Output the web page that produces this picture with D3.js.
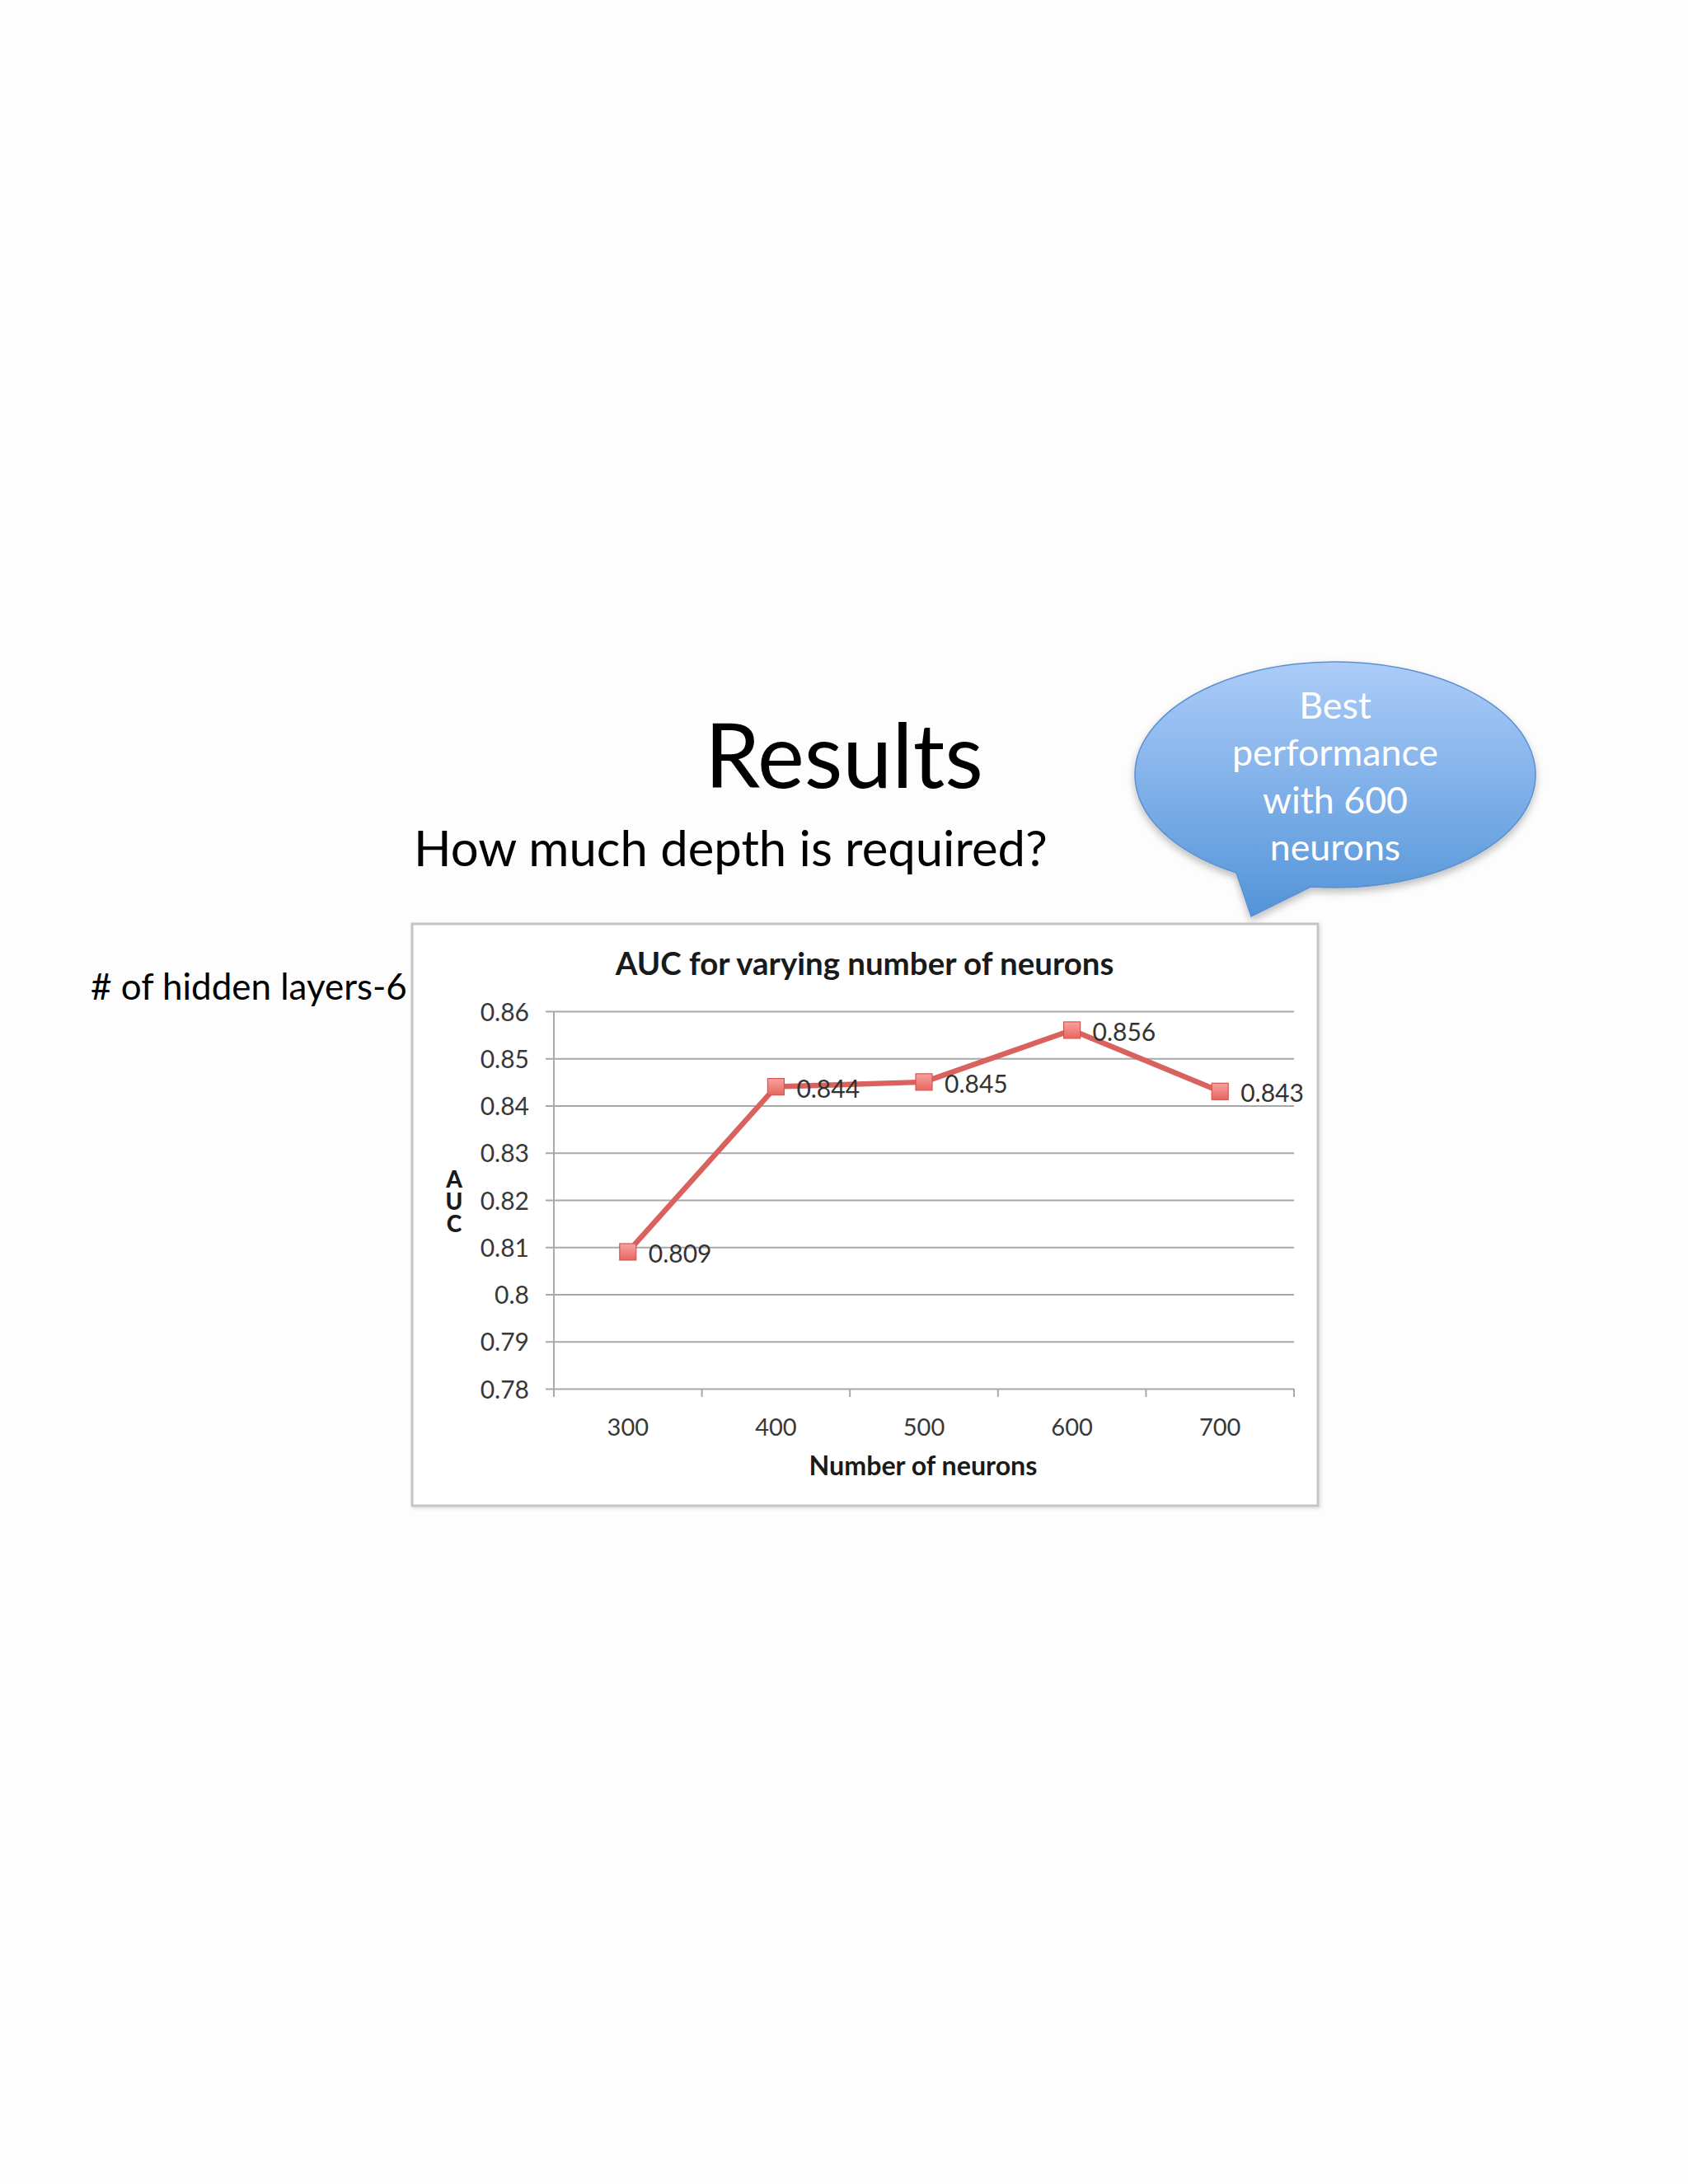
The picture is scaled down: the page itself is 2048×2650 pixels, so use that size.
<!DOCTYPE html>
<html><head><meta charset="utf-8">
<script src="https://cdn.jsdelivr.net/npm/d3@7"></script>
<style>html,body{margin:0;padding:0;background:#fdfdfd;} svg{display:block;}</style>
</head><body>
<script>
// ---- data ----
const categories = ["300", "400", "500", "600", "700"];
const aucValues = [0.809, 0.844, 0.845, 0.856, 0.843];
const yTickValues = [0.78, 0.79, 0.80, 0.81, 0.82, 0.83, 0.84, 0.85, 0.86];
const chartTitle = "AUC for varying number of neurons";
const xAxisTitle = "Number of neurons";
const yAxisTitle = "AUC";
const slideTitle = "Results";
const slideSubtitle = "How much depth is required?";
const sideNote = "# of hidden layers-6";
const bubbleLines = ["Best", "performance", "with 600", "neurons"];

const W = 2048, H = 2650;
const FONT = "Lato, 'Open Sans', sans-serif";
const svg = d3.select("body").append("svg").attr("width", W).attr("height", H);
svg.append("rect").attr("width", W).attr("height", H).attr("fill", "#fdfdfd");

function fitText(sel, targetWidth) {
  const fs = parseFloat(sel.attr("font-size"));
  const w = sel.node().getComputedTextLength();
  if (w > 0) sel.attr("font-size", fs * targetWidth / w);
  return sel;
}

const defs = svg.append("defs");
const bg = defs.append("linearGradient").attr("id", "bubbleGrad").attr("x1", 0).attr("y1", 0).attr("x2", 0).attr("y2", 1);
bg.append("stop").attr("offset", "0%").attr("stop-color", "#acccf9");
bg.append("stop").attr("offset", "100%").attr("stop-color", "#5394d8");
const mg = defs.append("linearGradient").attr("id", "markGrad").attr("x1", 0).attr("y1", 0).attr("x2", 0).attr("y2", 1);
mg.append("stop").attr("offset", "0%").attr("stop-color", "#f7a3a0");
mg.append("stop").attr("offset", "100%").attr("stop-color", "#e86561");
const sh = defs.append("filter").attr("id", "shadow").attr("x", "-10%").attr("y", "-10%").attr("width", "130%").attr("height", "130%");
sh.append("feDropShadow").attr("dx", 0).attr("dy", 5).attr("stdDeviation", 5).attr("flood-color", "#000").attr("flood-opacity", 0.25);
const sh2 = defs.append("filter").attr("id", "boxShadow").attr("x", "-5%").attr("y", "-5%").attr("width", "110%").attr("height", "110%");
sh2.append("feDropShadow").attr("dx", 2).attr("dy", 2).attr("stdDeviation", 2).attr("flood-color", "#000").attr("flood-opacity", 0.12);

// ---- slide texts ----
fitText(svg.append("text").text(slideTitle).attr("x", 1024).attr("y", 956).attr("text-anchor", "middle")
  .attr("font-family", FONT).attr("font-size", 120).attr("fill", "#000"), 338);
fitText(svg.append("text").text(slideSubtitle).attr("x", 502).attr("y", 1051)
  .attr("font-family", FONT).attr("font-size", 60).attr("fill", "#000"), 769);
fitText(svg.append("text").text(sideNote).attr("x", 110).attr("y", 1213)
  .attr("font-family", FONT).attr("font-size", 42).attr("fill", "#000"), 384);

// ---- speech bubble ----
const cx = 1620, cy = 940, rx = 243, ry = 137;
const aL = 119.6 * Math.PI / 180, aR = 97 * Math.PI / 180;
const pL = [cx + rx * Math.cos(aL), cy + ry * Math.sin(aL)];
const pR = [cx + rx * Math.cos(aR), cy + ry * Math.sin(aR)];
const tip = [1518, 1112];
svg.append("path")
  .attr("d", `M${pR[0]},${pR[1]} L${tip[0]},${tip[1]} L${pL[0]},${pL[1]} A${rx},${ry} 0 1 1 ${pR[0]},${pR[1]} Z`)
  .attr("fill", "url(#bubbleGrad)").attr("stroke", "#5d8fcf").attr("stroke-width", 1.5)
  .attr("filter", "url(#shadow)");
const bt = svg.append("g");
const perfT = bt.append("text").text(bubbleLines[1]).attr("font-family", FONT).attr("font-size", 40);
fitText(perfT, 250);
const bfs = parseFloat(perfT.attr("font-size"));
perfT.remove();
bt.selectAll("text").data(bubbleLines).join("text")
  .text(d => d).attr("x", cx).attr("y", (d, i) => 872 + i * 57.3)
  .attr("text-anchor", "middle").attr("font-family", FONT).attr("font-size", bfs).attr("fill", "#fff");

// ---- chart box ----
svg.append("rect").attr("x", 500).attr("y", 1121).attr("width", 1099).attr("height", 706)
  .attr("fill", "#fff").attr("stroke", "#c4c4c4").attr("stroke-width", 3).attr("filter", "url(#boxShadow)");

const x = d3.scaleBand().domain(categories).range([672, 1570]).paddingInner(0).paddingOuter(0);
const y = d3.scaleLinear().domain([0.78, 0.86]).range([1685, 1227]);
const GRID = "#a8a8a8";

// y axis with gridlines
const yAx = svg.append("g").attr("transform", "translate(662,0)")
  .call(d3.axisLeft(y).tickValues(yTickValues).tickSize(-(x.range()[1] - 662)).tickPadding(20)
    .tickFormat(d => String(+d.toFixed(2))));
yAx.select(".domain").remove();
yAx.selectAll(".tick line").attr("stroke", GRID).attr("stroke-width", 2);
yAx.selectAll(".tick text").attr("font-family", FONT).attr("font-size", 30).attr("fill", "#383838")
  .attr("dy", null).attr("y", 11);

// y axis line
svg.append("line").attr("x1", 672).attr("x2", 672).attr("y1", y(0.86)).attr("y2", y(0.78) + 10)
  .attr("stroke", GRID).attr("stroke-width", 2);

// x axis
const xAx = svg.append("g").attr("transform", `translate(0,${y(0.78)})`)
  .call(d3.axisBottom(x).tickSize(0));
xAx.select(".domain").remove();
xAx.selectAll(".tick text").attr("font-family", FONT).attr("font-size", 29).attr("fill", "#383838")
  .attr("dy", null).attr("y", 57);
const bounds = categories.map(c => x(c)).concat([x.range()[1]]);
svg.append("g").selectAll("line").data(bounds).join("line")
  .attr("x1", d => d).attr("x2", d => d).attr("y1", y(0.78)).attr("y2", y(0.78) + 10)
  .attr("stroke", GRID).attr("stroke-width", 2);

// titles
fitText(svg.append("text").text(chartTitle).attr("x", 1049).attr("y", 1183).attr("text-anchor", "middle")
  .attr("font-family", FONT).attr("font-weight", "bold").attr("font-size", 32).attr("fill", "#1a1a1a"), 605);
fitText(svg.append("text").text(xAxisTitle).attr("x", 1120).attr("y", 1790).attr("text-anchor", "middle")
  .attr("font-family", FONT).attr("font-weight", "bold").attr("font-size", 28).attr("fill", "#1a1a1a"), 277);
// stacked (upright vertical) y-axis title
svg.append("text").text(yAxisTitle).attr("x", 551).attr("y", 1413)
  .style("writing-mode", "vertical-rl").style("text-orientation", "upright").style("letter-spacing", "-7px")
  .attr("font-family", FONT).attr("font-weight", 900).attr("font-size", 28).attr("fill", "#1a1a1a");

// series
const pts = categories.map((c, i) => ({ c, v: aucValues[i] }));
const px = d => x(d.c) + x.bandwidth() / 2;
svg.append("path").datum(pts)
  .attr("d", d3.line().x(px).y(d => y(d.v)))
  .attr("fill", "none").attr("stroke", "#d9625e").attr("stroke-width", 6.5).attr("stroke-linejoin", "round");
svg.append("g").selectAll("rect").data(pts).join("rect")
  .attr("x", d => px(d) - 10).attr("y", d => y(d.v) - 10).attr("width", 20).attr("height", 20)
  .attr("fill", "url(#markGrad)").attr("stroke", "#d45752").attr("stroke-width", 1.2);
svg.append("g").selectAll("text").data(pts).join("text")
  .text(d => d.v.toFixed(3)).attr("x", d => px(d) + 25).attr("y", d => y(d.v) + 13)
  .attr("font-family", FONT).attr("font-size", 30).attr("fill", "#333");
</script>
</body></html>
